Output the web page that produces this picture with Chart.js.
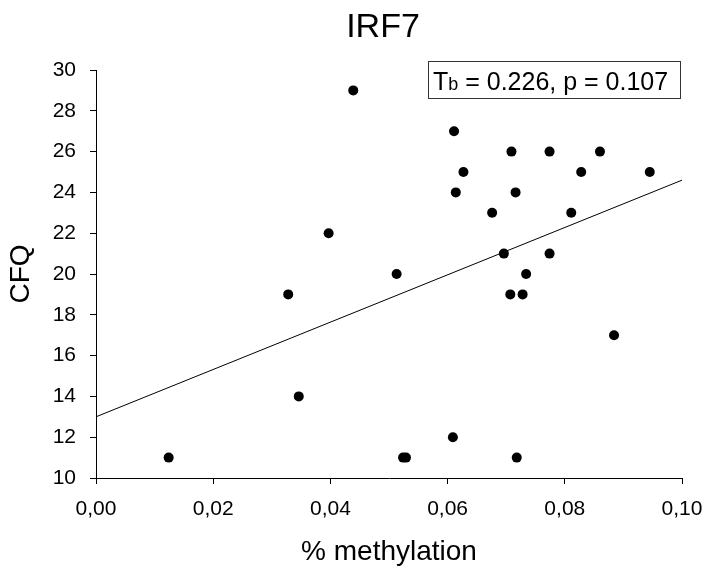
<!DOCTYPE html>
<html>
<head>
<meta charset="utf-8">
<title>IRF7</title>
<script src="https://cdn.jsdelivr.net/npm/chart.js@4.4.1/dist/chart.umd.min.js"></script>
<style>
    body { margin: 0; background: #fff; }
    #wrap { width: 708px; height: 567px; position: relative; }
</style>
</head>
<body>
<div id="wrap"><canvas id="irfChart"></canvas></div>
<script>
// data
const methylation = [0.0124, 0.0328, 0.0346, 0.0397, 0.0439, 0.0513, 0.0524, 0.0529,
    0.0609, 0.0611, 0.0614, 0.0627, 0.0676, 0.0696, 0.0707, 0.0709, 0.0716, 0.0718,
    0.0728, 0.0734, 0.0774, 0.0774, 0.0811, 0.0828, 0.0860, 0.0884, 0.0945];
const cfq = [11, 19, 14, 22, 29, 20, 11, 11,
    12, 27, 24, 25, 23, 21, 19, 26, 24, 11,
    19, 20, 26, 21, 23, 25, 26, 17, 25];

// regression line end points
const trendX = [0, 0.1];
const trendY = [13.0, 24.6];

const xTicks = [0, 0.02, 0.04, 0.06, 0.08, 0.10];
const yTicks = [10, 12, 14, 16, 18, 20, 22, 24, 26, 28, 30];

const chartTitle = 'IRF7';
const statText = [' = 0.226, p = 0.107'];

const FONT = "'Liberation Sans', Arial, sans-serif";

const points = methylation.map((m, i) => ({ x: m, y: cfq[i] }));
const trend = trendX.map((x, i) => ({ x: x, y: trendY[i] }));

// title + stats box, drawn on top of the chart
const extrasPlugin = {
    id: 'extras',
    afterDraw(chart) {
        const ctx = chart.ctx;
        ctx.save();
        ctx.fillStyle = '#000';
        ctx.textBaseline = 'alphabetic';

        ctx.font = '34px ' + FONT;
        ctx.textAlign = 'center';
        ctx.fillText(chartTitle, 383, 37);

        // stats box
        ctx.strokeStyle = '#333';
        ctx.lineWidth = 1;
        ctx.strokeRect(428.5, 61.5, 252, 37);

        ctx.textAlign = 'left';
        let x = 433;
        ctx.font = '25px ' + FONT;
        ctx.fillText('T', x, 90);
        x += ctx.measureText('T').width;
        ctx.font = '18px ' + FONT;
        ctx.fillText('b', x, 90);
        x += ctx.measureText('b').width;
        ctx.font = '25px ' + FONT;
        ctx.fillText(statText[0], x, 90);
        ctx.restore();
    }
};

const ctx = document.getElementById('irfChart').getContext('2d');

new Chart(ctx, {
    type: 'scatter',
    data: {
        datasets: [{
            data: points,
            backgroundColor: '#000',
            borderColor: '#000',
            pointRadius: 5,
            pointHoverRadius: 5,
            borderWidth: 0
        }, {
            type: 'line',
            data: trend,
            borderColor: '#000',
            borderWidth: 1,
            pointRadius: 0,
            fill: false,
            tension: 0
        }]
    },
    options: {
        responsive: true,
        maintainAspectRatio: false,
        animation: false,
        devicePixelRatio: 1,
        layout: {
            padding: { top: 70, right: 26, left: 0, bottom: 0 }
        },
        plugins: {
            legend: { display: false },
            tooltip: { enabled: false }
        },
        scales: {
            x: {
                type: 'linear',
                min: 0,
                max: 0.1,
                afterFit: (scale) => {
                    scale.height = 89;
                    // label overhang is already covered by layout padding
                    scale.paddingRight = 0;
                    scale.paddingLeft = 0;
                },
                afterBuildTicks: (scale) => { scale.ticks = xTicks.map(v => ({ value: v })); },
                border: { display: true, color: '#000', width: 1 },
                grid: {
                    display: true,
                    drawOnChartArea: false,
                    drawTicks: true,
                    tickLength: 6,
                    color: '#000',
                    tickColor: '#000'
                },
                ticks: {
                    padding: 13,
                    color: '#000',
                    font: { family: FONT, size: 21 },
                    maxRotation: 0,
                    callback: (v) => Number(v).toFixed(2).replace('.', ',')
                },
                title: {
                    display: true,
                    text: '% methylation',
                    color: '#000',
                    font: { family: FONT, size: 28, lineHeight: 1 },
                    padding: { top: 0, bottom: 1 }
                }
            },
            y: {
                type: 'linear',
                min: 10,
                max: 30,
                afterFit: (scale) => {
                    scale.width = 96;
                    scale.paddingTop = 0;
                    scale.paddingBottom = 0;
                },
                afterBuildTicks: (scale) => { scale.ticks = yTicks.map(v => ({ value: v })); },
                border: { display: true, color: '#000', width: 1 },
                grid: {
                    display: true,
                    drawOnChartArea: false,
                    drawTicks: true,
                    tickLength: 6,
                    color: '#000',
                    tickColor: '#000'
                },
                ticks: {
                    padding: 14,
                    color: '#000',
                    font: { family: FONT, size: 21 }
                },
                title: {
                    display: true,
                    text: 'CFQ',
                    color: '#000',
                    font: { family: FONT, size: 28, lineHeight: 1 },
                    padding: { top: 7, bottom: 0 }
                }
            }
        }
    },
    plugins: [extrasPlugin]
});
</script>
</body>
</html>
